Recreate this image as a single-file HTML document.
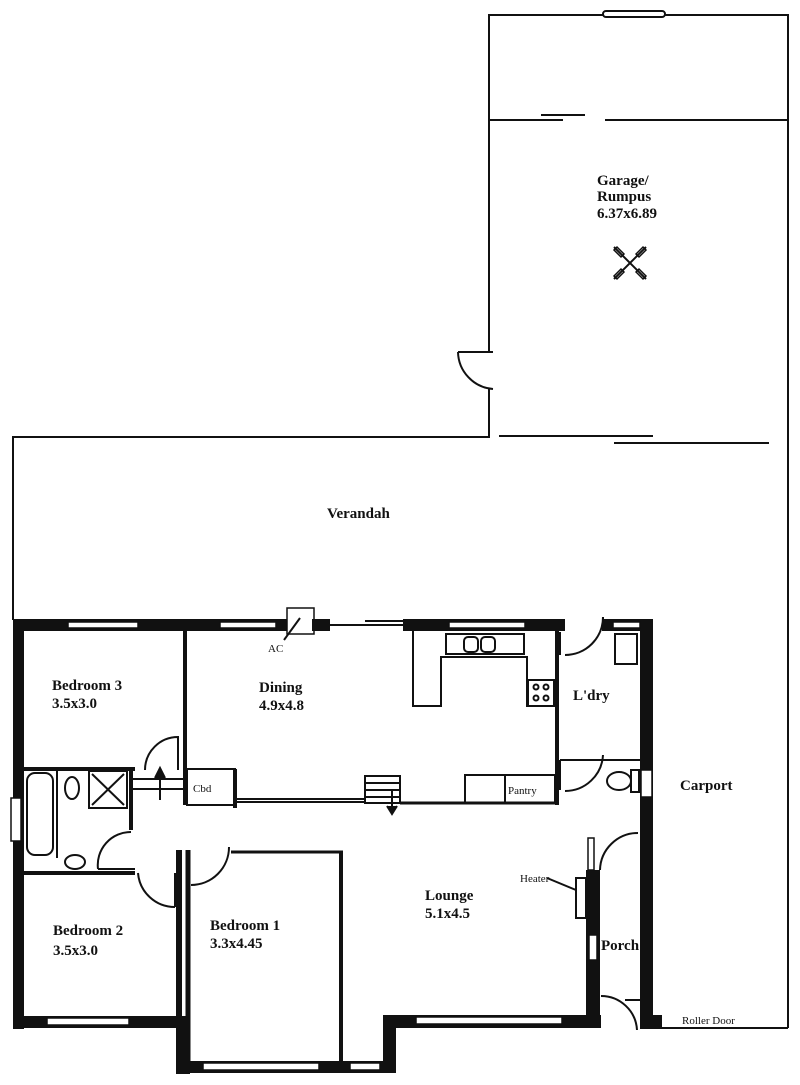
<!DOCTYPE html>
<html><head><meta charset="utf-8"><style>
html,body{margin:0;padding:0;background:#fff;}
svg{display:block;}
text{font-family:"Liberation Serif",serif;font-weight:bold;fill:#111;}
</style></head><body>
<svg width="800" height="1085" viewBox="0 0 800 1085" xmlns="http://www.w3.org/2000/svg">
<g fill="none" stroke="#111" stroke-width="2">
 <!-- Garage -->
 <polyline points="489,352 489,15 788,15 788,1028"/>
 <rect x="603" y="11" width="62" height="6" rx="3" fill="#fff"/>
 <line x1="489" y1="120" x2="563" y2="120"/>
 <line x1="541" y1="115" x2="585" y2="115"/>
 <line x1="605" y1="120" x2="788" y2="120"/>
 <polyline points="493,352 458,352"/>
 <path d="M458,352 A38,38 0 0 0 493,389"/>
 <polyline points="489,389 489,437 13,437 13,620"/>
 <line x1="499" y1="436" x2="653" y2="436"/>
 <line x1="614" y1="443" x2="769" y2="443"/>
 <!-- fan -->
 <g transform="translate(630,263)">
  <line x1="-16" y1="-16" x2="16" y2="16" stroke-width="2"/>
  <line x1="16" y1="-16" x2="-16" y2="16" stroke-width="2"/>
  <g stroke-width="1.5">
   <polygon points="-6,-9 -9,-6 -16,-13 -13,-16"/>
   <polygon points="6,-9 9,-6 16,-13 13,-16"/>
   <polygon points="-6,9 -9,6 -16,13 -13,16"/>
   <polygon points="6,9 9,6 16,13 13,16"/>
  </g>
 </g>
 <!-- carport bottom -->
 <line x1="652" y1="1028" x2="788" y2="1028"/>
</g>

<!-- thick walls -->
<g fill="#111">
 <rect x="13" y="619" width="317" height="12"/>
 <rect x="13" y="619" width="11" height="410"/>
 <rect x="13" y="1016" width="173" height="12"/>
 <rect x="176" y="1016" width="14" height="58"/>
 <rect x="176" y="1061" width="220" height="12"/>
 <rect x="383" y="1015" width="13" height="58"/>
 <rect x="383" y="1015" width="218" height="13"/>
 <rect x="403" y="619" width="162" height="12"/>
 <rect x="603" y="619" width="50" height="12"/>
 <rect x="640" y="619" width="13" height="410"/>
 <rect x="586" y="870" width="14" height="158"/>
 <rect x="640" y="1015" width="22" height="13"/>
 <rect x="176" y="850" width="6" height="170"/>
</g>
<!-- windows -->
<g fill="#fff" stroke="#111" stroke-width="1.5">
 <rect x="68" y="622" width="70" height="6"/>
 <rect x="220" y="622" width="56" height="6"/>
 <rect x="449" y="622" width="76" height="6"/>
 <rect x="613" y="622" width="27" height="6"/>
 <rect x="11" y="798" width="10" height="43"/>
 <rect x="47" y="1018" width="82" height="7"/>
 <rect x="203" y="1063" width="116" height="7"/>
 <rect x="350" y="1063" width="30" height="7"/>
 <rect x="416" y="1017" width="146" height="7"/>
 <rect x="641" y="770" width="11" height="27"/>
 <rect x="589" y="935" width="8" height="25"/>
 <rect x="588" y="838" width="6" height="32"/>
 <rect x="287" y="608" width="27" height="26"/>
</g>
<g fill="none" stroke="#111" stroke-width="2">
 <!-- AC -->
 <line x1="300" y1="618" x2="284" y2="640"/>
 <rect x="313" y="620" width="16" height="10" fill="#111"/>
 <!-- sliding door top -->
 <line x1="330" y1="625" x2="403" y2="625"/>
 <line x1="365" y1="621" x2="403" y2="621"/>
 <!-- bedroom3 / dining wall -->
 <line x1="185" y1="630" x2="185" y2="805" stroke-width="4"/>
 <line x1="24" y1="769" x2="135" y2="769" stroke-width="4"/>
 <!-- hall doors -->
 <line x1="132" y1="779" x2="185" y2="779"/>
 <line x1="132" y1="789" x2="185" y2="789"/>
 <path d="M145,770 A33,33 0 0 1 178,737 L178,770"/>
 <line x1="160" y1="800" x2="160" y2="770"/>
 <path d="M155,778 L160,768 L165,778" fill="#111"/>
 <!-- Cbd -->
 <rect x="187" y="769" width="48" height="36"/>
 <line x1="235" y1="769" x2="235" y2="808" stroke-width="4"/>
 <!-- dining bottom -->
 <line x1="235" y1="799" x2="365" y2="799"/>
 <line x1="235" y1="802" x2="365" y2="802"/>
 <!-- stairs -->
 <rect x="365" y="776" width="35" height="27"/>
 <line x1="365" y1="783" x2="400" y2="783"/>
 <line x1="365" y1="790" x2="400" y2="790"/>
 <line x1="365" y1="797" x2="400" y2="797"/>
 <line x1="392" y1="790" x2="392" y2="812"/>
 <path d="M387,806 L392,814 L397,806" fill="#111"/>
 <line x1="400" y1="803" x2="557" y2="803" stroke-width="3"/>
 <!-- kitchen -->
 <polyline points="413,631 413,706 441,706 441,657 527,657 527,706 555,706"/>
 <rect x="446" y="634" width="78" height="20"/>
 <rect x="464" y="637" width="14" height="15" rx="4"/>
 <rect x="481" y="637" width="14" height="15" rx="4"/>
 <rect x="528" y="680" width="26" height="26"/>
 <circle cx="536" cy="687" r="2.5"/><circle cx="546" cy="687" r="2.5"/>
 <circle cx="536" cy="698" r="2.5"/><circle cx="546" cy="698" r="2.5"/>
 <rect x="465" y="775" width="90" height="28"/>
 <line x1="505" y1="775" x2="505" y2="803"/>
 <!-- laundry -->
 <line x1="557" y1="631" x2="557" y2="805" stroke-width="4"/>
 <line x1="560" y1="632" x2="560" y2="655"/>
 <path d="M565,655 A38,38 0 0 0 603,617"/>
 <line x1="603" y1="617" x2="603" y2="631"/>
 <rect x="615" y="634" width="22" height="30"/>
 <line x1="560" y1="760" x2="640" y2="760"/>
 <line x1="560" y1="760" x2="560" y2="790"/>
 <path d="M565,791 A38,38 0 0 0 603,755"/>
 <ellipse cx="619" cy="781" rx="12" ry="9"/>
 <rect x="631" y="770" width="8" height="22"/>
 <!-- bathroom -->
 <line x1="24" y1="873" x2="135" y2="873" stroke-width="4"/>
 <line x1="131" y1="769" x2="131" y2="830" stroke-width="4"/>
 <rect x="27" y="773" width="26" height="82" rx="8"/>
 <line x1="57" y1="769" x2="57" y2="858"/>
 <ellipse cx="72" cy="788" rx="7" ry="11"/>
 <rect x="89" y="771" width="38" height="37"/>
 <line x1="92" y1="774" x2="124" y2="805"/><line x1="124" y1="774" x2="92" y2="805"/>
 <ellipse cx="75" cy="862" rx="10" ry="7"/>
 <path d="M98,869 A33,33 0 0 1 131,832"/>
 <line x1="98" y1="869" x2="135" y2="869"/>
 <!-- bedroom2 door -->
 <path d="M138,873 A37,37 0 0 0 175,907"/>
 <line x1="175" y1="873" x2="175" y2="907"/>
 <!-- bedroom1 -->
 <line x1="188" y1="850" x2="188" y2="1062" stroke-width="5"/>
 <line x1="231" y1="852" x2="343" y2="852" stroke-width="3"/>
 <line x1="341" y1="852" x2="341" y2="1062" stroke-width="4"/>
 <path d="M191,885 A38,38 0 0 0 229,847"/>
 <!-- porch doors -->
 <path d="M600,870 A38,38 0 0 1 638,833"/>
 <path d="M601,996 A36,36 0 0 1 637,1030"/>
 <line x1="625" y1="1000" x2="640" y2="1000"/>
 <!-- heater -->
 <rect x="576" y="878" width="10" height="40"/>
 <line x1="547" y1="878" x2="576" y2="890"/>
</g>
<g font-size="15">
 <text x="597" y="185">Garage/</text>
 <text x="597" y="201">Rumpus</text>
 <text x="597" y="218">6.37x6.89</text>
 <text x="327" y="518">Verandah</text>
 <text x="52" y="690">Bedroom 3</text>
 <text x="52" y="708">3.5x3.0</text>
 <text x="259" y="692">Dining</text>
 <text x="259" y="710">4.9x4.8</text>
 <text x="573" y="700">L'dry</text>
 <text x="680" y="790">Carport</text>
 <text x="425" y="900">Lounge</text>
 <text x="425" y="918">5.1x4.5</text>
 <text x="53" y="935">Bedroom 2</text>
 <text x="53" y="955">3.5x3.0</text>
 <text x="210" y="930">Bedroom 1</text>
 <text x="210" y="948">3.3x4.45</text>
 <text x="601" y="950">Porch</text>
</g>
<g font-size="11">
 <text x="268" y="652" style="font-weight:normal">AC</text>
 <text x="193" y="792" style="font-weight:normal">Cbd</text>
 <text x="508" y="794" style="font-weight:normal">Pantry</text>
 <text x="520" y="882" style="font-weight:normal">Heater</text>
 <text x="682" y="1024" style="font-weight:normal">Roller Door</text>
</g>
</svg>
</body></html>
